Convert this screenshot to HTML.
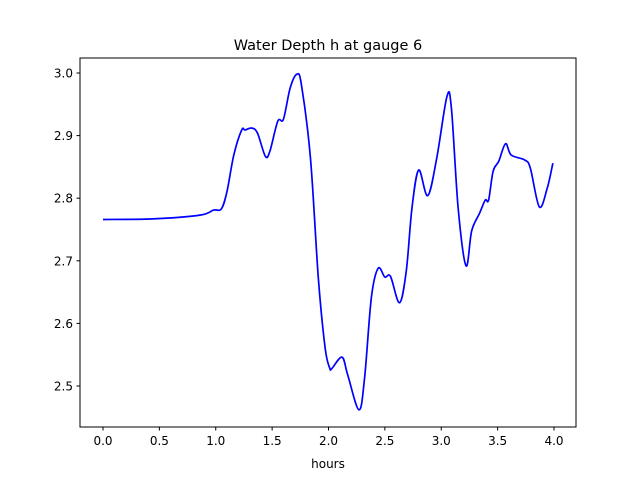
<!DOCTYPE html>
<html><head><meta charset="utf-8"><style>
body{margin:0;background:#fff;font-family:"Liberation Sans","DejaVu Sans",sans-serif}
</style></head><body>
<svg width="640" height="480" xmlns="http://www.w3.org/2000/svg" font-family="DejaVu Sans, Liberation Sans, sans-serif">
<rect x="0" y="0" width="640" height="480" fill="#fff"/>
<text x="328" y="50" text-anchor="middle" font-size="14.5">Water Depth h at gauge 6</text>
<g id="xt"></g>
<g id="yt"></g>
<path id="line" fill="none" stroke="#0000ff" stroke-width="1.7"/>
<rect x="80" y="58" width="496" height="369" fill="none" stroke="#000" stroke-width="1"/>
<text x="328" y="468" text-anchor="middle" font-size="12">hours</text>
</svg>
<script>
const hours=[0,0.44,0.86,0.98,1.05,1.10,1.16,1.23,1.26,1.32,1.37,1.44,1.48,1.55,1.60,1.66,1.72,1.76,1.84,1.91,1.97,2.01,2.03,2.12,2.17,2.27,2.32,2.38,2.44,2.50,2.55,2.63,2.69,2.74,2.80,2.88,2.96,3.05,3.09,3.15,3.22,3.27,3.34,3.39,3.42,3.46,3.51,3.57,3.62,3.74,3.79,3.87,3.94,3.99];
const depth=[2.766,2.767,2.773,2.781,2.783,2.811,2.869,2.909,2.909,2.912,2.904,2.867,2.875,2.923,2.926,2.976,2.998,2.981,2.864,2.672,2.561,2.529,2.528,2.546,2.518,2.462,2.513,2.641,2.688,2.674,2.675,2.633,2.684,2.784,2.845,2.804,2.864,2.962,2.944,2.784,2.692,2.748,2.776,2.797,2.797,2.843,2.859,2.887,2.869,2.861,2.848,2.786,2.816,2.856];
const xTicks=[0,0.5,1,1.5,2,2.5,3,3.5,4];
const xTickLabels=["0.0","0.5","1.0","1.5","2.0","2.5","3.0","3.5","4.0"];
const yTicks=[2.5,2.6,2.7,2.8,2.9,3.0];
const yTickLabels=["2.5","2.6","2.7","2.8","2.9","3.0"];
const NS="http://www.w3.org/2000/svg";
function sx(v){return 103+v*112.75;}
function sy(v){return 73+(3.0-v)*626;}
function mk(tag,attrs,parent){const e=document.createElementNS(NS,tag);for(const k in attrs)e.setAttribute(k,attrs[k]);parent.appendChild(e);return e;}
const xt=document.getElementById('xt'),yt=document.getElementById('yt');
xTicks.forEach((v,i)=>{
  const l=mk('line',{x1:sx(v),x2:sx(v),y1:427,y2:430.5,stroke:'#000'},xt);
  
  
  const t=mk('text',{x:sx(v),y:445,'text-anchor':'middle','font-size':'12'},xt);
  t.textContent=xTickLabels[i];
  
  
});
yTicks.forEach((v,i)=>{
  const l=mk('line',{x1:76.5,x2:80,y1:sy(v),y2:sy(v),stroke:'#000'},yt);
  
  
  const t=mk('text',{x:73,y:sy(v)+4.5,'text-anchor':'end','font-size':'12'},yt);
  t.textContent=yTickLabels[i];
  
  
});
const P=hours.map((h,i)=>[sx(h),sy(depth[i])]);
let d='M'+P[0][0]+','+P[0][1];
for(let i=0;i<P.length-1;i++){
  const p0=P[Math.max(0,i-1)],p1=P[i],p2=P[i+1],p3=P[Math.min(P.length-1,i+2)];
  const c1=[p1[0]+(p2[0]-p0[0])/6,p1[1]+(p2[1]-p0[1])/6];
  const c2=[p2[0]-(p3[0]-p1[0])/6,p2[1]-(p3[1]-p1[1])/6];
  d+=' C'+c1[0].toFixed(2)+','+c1[1].toFixed(2)+' '+c2[0].toFixed(2)+','+c2[1].toFixed(2)+' '+p2[0].toFixed(2)+','+p2[1].toFixed(2);
}
document.getElementById('line').setAttribute('d',d);
</script>
</body></html>
